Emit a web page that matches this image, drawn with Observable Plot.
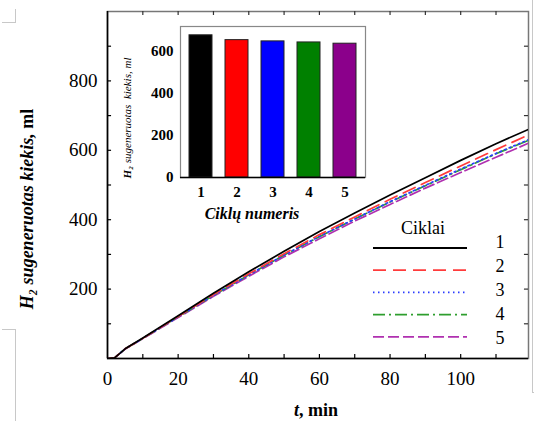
<!DOCTYPE html>
<html>
<head>
<meta charset="utf-8">
<script src="https://cdn.jsdelivr.net/npm/d3@7"></script>
<script src="https://cdn.jsdelivr.net/npm/@observablehq/plot@0.6"></script>
<style>
  html, body { margin: 0; padding: 0; background: #fff; }
  #wrap { position: relative; width: 534px; height: 421px; overflow: hidden; }
  #wrap svg { position: absolute; }
  .art { position: absolute; border-color: #c8c8c8; border-style: solid; border-width: 0; }
</style>
</head>
<body>
<div id="wrap"></div>
<script>
// ---- data ----
const times  = [0, 2, 5, 10, 20, 30, 40, 50, 60, 70, 80, 90, 100, 110, 120];
const cycle1 = [0, 2, 28, 59, 123, 188, 250, 309, 366, 419, 471, 521, 571, 619, 664];
const cycle2 = [0, 2, 28, 58, 121, 184, 244, 302, 357, 408, 459, 507, 555, 602, 648];
const cycle3 = [0, 2, 28, 58, 120, 182, 241, 298, 352, 402, 452, 499, 546, 591, 634];
const cycle4 = [0, 2, 28, 58, 120, 182, 241, 298, 351, 402, 451, 498, 544, 590, 632];
const cycle5 = [0, 2, 27, 57, 118, 179, 237, 293, 345, 396, 444, 491, 536, 580, 624];
const cycleNames = ["1", "2", "3", "4", "5"];
const barValues = [678, 655, 649, 644, 638];
const lineColors = ["#000000", "#ff3b3b", "#2a3cff", "#2e9e2e", "#b030b0"];
const lineDashes = [null, "13,7", "1.5,3.5", "12,4,2,4", "11,4"];
const barColors = ["#000000", "#ff0000", "#0000ff", "#008000", "#8b008b"];
const xTickLabels = [0, 20, 40, 60, 80, 100];
const yTickLabels = [200, 400, 600, 800];
const xMinorTicks = [10, 20, 30, 40, 50, 60, 70, 80, 90, 100, 110];
const yMinorTicks = [100, 200, 300, 400, 500, 600, 700, 800, 900];
const insetYTickLabels = [0, 200, 400, 600];
const insetYMinorTicks = [100, 200, 300, 400, 500, 600, 700];

const series = [cycle1, cycle2, cycle3, cycle4, cycle5];
const rows = series.map((vals, i) => times.map((t, j) => ({t, v: vals[j], cycle: cycleNames[i]})));

const serif = "'Liberation Serif', 'Times New Roman', serif";
const wrap = document.getElementById("wrap");

// ---- main chart ----
const XMAX = 119.2, YMAX = 1000;
const main = Plot.plot({
  width: 534, height: 421,
  marginLeft: 107, marginRight: 6, marginTop: 11, marginBottom: 63,
  x: {domain: [0, XMAX]},
  y: {domain: [0, YMAX]},
  style: {fontFamily: serif, fontSize: "19px", color: "#000", background: "transparent", overflow: "visible"},
  marks: [
    Plot.frame({stroke: "#777", strokeWidth: 1.5}),
    ...rows.map((r, i) => Plot.line(r, {
      x: "t", y: "v", stroke: lineColors[i], strokeWidth: 1.7,
      strokeDasharray: lineDashes[i] ?? undefined, clip: true
    })).reverse(),
    Plot.ruleX(xMinorTicks, {y1: 0, y2: 11.5, stroke: "#000", strokeWidth: 1.2}),
    Plot.ruleX(xMinorTicks, {y1: YMAX - 11.5, y2: YMAX, stroke: "#333", strokeWidth: 1.2}),
    Plot.ruleY(yMinorTicks, {x1: 0, x2: 1.15, stroke: "#000", strokeWidth: 1.2}),
    Plot.ruleY(yMinorTicks, {x1: XMAX - 1.15, x2: XMAX, stroke: "#333", strokeWidth: 1.2}),
    Plot.ruleX([0], {stroke: "#000", strokeWidth: 1.6}),
    Plot.ruleY([0], {stroke: "#000", strokeWidth: 1.6}),
    Plot.axisX(xTickLabels, {tickSize: 0, tickPadding: 13, label: null, fontSize: 19}),
    Plot.axisY(yTickLabels, {tickSize: 0, tickPadding: 10, label: null, fontSize: 19})
  ]
});
main.style.left = "0px"; main.style.top = "0px";
wrap.appendChild(main);

const ms = d3.select(main);
// axis titles
const yt = ms.append("text")
  .attr("transform", "translate(33,209) rotate(-90)")
  .attr("text-anchor", "middle")
  .attr("font-family", serif).attr("font-size", 18).attr("font-weight", "bold");
yt.append("tspan").attr("font-style", "italic").text("H₂ sugeneruotas kiekis,");
yt.append("tspan").text(" ml");

const xt = ms.append("text")
  .attr("x", 316).attr("y", 416)
  .attr("text-anchor", "middle")
  .attr("font-family", serif).attr("font-size", 18).attr("font-weight", "bold");
xt.append("tspan").attr("font-style", "italic").text("t");
xt.append("tspan").text(", min");

// legend
const lg = ms.append("g");
lg.append("text").attr("x", 423).attr("y", 234).attr("text-anchor", "middle")
  .attr("font-family", serif).attr("font-size", 18).text("Ciklai");
cycleNames.forEach((c, i) => {
  const y = 248 + i * 22.2;
  lg.append("line").attr("x1", 373).attr("x2", 467).attr("y1", y).attr("y2", y)
    .attr("stroke", lineColors[i]).attr("stroke-width", 1.8)
    .attr("stroke-dasharray", lineDashes[i]);
  lg.append("text").attr("x", 500).attr("y", 248 + i * 24).attr("text-anchor", "middle")
    .attr("font-family", serif).attr("font-size", 18).text(c);
});

// ---- inset bar chart ----
const IYMAX = 720;
const inset = Plot.plot({
  width: 275, height: 220,
  marginLeft: 80, marginRight: 10, marginTop: 16, marginBottom: 53,
  x: {domain: cycleNames, paddingInner: 0.37, paddingOuter: 0.22},
  y: {domain: [0, IYMAX]},
  style: {fontFamily: serif, fontSize: "14px", fontWeight: "bold", color: "#000", background: "transparent", overflow: "visible"},
  marks: [
    Plot.frame({stroke: "#888", strokeWidth: 1.2, fill: "#fff"}),
    Plot.barY(cycleNames, {x: d => d, y: (d, i) => barValues[i], fill: (d, i) => barColors[i], stroke: "#222", strokeWidth: 1}),
    Plot.ruleY(insetYMinorTicks, {x1: 0, x2: 0.045, stroke: "#555", strokeWidth: 1}),
    Plot.ruleY(insetYMinorTicks, {x1: 0.955, x2: 1, stroke: "#555", strokeWidth: 1}),
    Plot.ruleX([0], {stroke: "#333", strokeWidth: 1.3}),
    Plot.ruleY([0], {stroke: "#000", strokeWidth: 1.5}),
    Plot.axisX({tickSize: 0, tickPadding: 9, label: null, fontSize: 15, fontWeight: "bold"}),
    Plot.axisY(insetYTickLabels, {tickSize: 0, tickPadding: 7, label: null, fontSize: 15, fontWeight: "bold"})
  ]
});
inset.style.left = "100px"; inset.style.top = "10px";
wrap.appendChild(inset);

const is = d3.select(inset);
is.append("text").attr("x", 152).attr("y", 209).attr("text-anchor", "middle")
  .attr("font-family", serif).attr("font-size", 16).attr("font-weight", "bold").attr("font-style", "italic")
  .text("Ciklų numeris");
const iyl = is.append("text")
  .attr("transform", "translate(31,108) rotate(-90)")
  .attr("text-anchor", "middle")
  .attr("font-family", serif).attr("font-size", 11).attr("font-style", "italic").attr("font-weight", "normal");
iyl.append("tspan").attr("font-weight", "bold").text("H₂");
iyl.append("tspan").text(" sugeneruotas  kiekis, ml");

// scan-edge artefacts
function art(l, t, w, h, sides) {
  const d = document.createElement("div");
  d.className = "art";
  d.style.left = l + "px"; d.style.top = t + "px";
  d.style.width = w + "px"; d.style.height = h + "px";
  sides.forEach(s => d.style["border" + s + "Width"] = "1.5px");
  wrap.appendChild(d);
}
art(2, 9, 13, 13, ["Right", "Bottom"]);
art(2, 329, 13, 100, ["Top", "Right"]);
art(532, 0, 10, 392, ["Left", "Bottom"]);
</script>
</body>
</html>
